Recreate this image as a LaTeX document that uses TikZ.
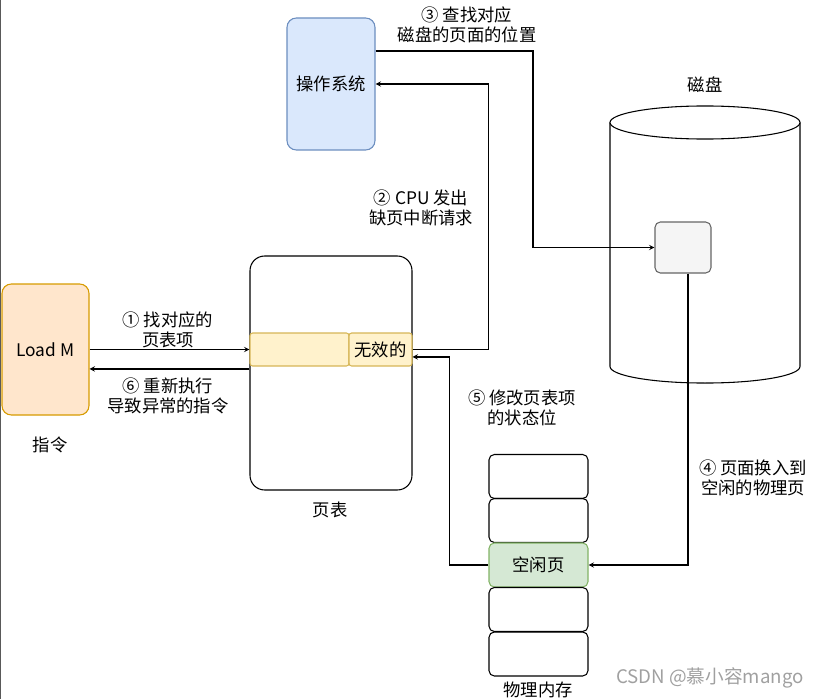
\documentclass[tikz,border=0pt]{standalone}
\usepackage{fontspec}
\usepackage{xcolor}
\usepackage{tikz}
\usetikzlibrary{arrows,calc,positioning,shapes}
\newfontfamily\cjk{Noto Sans CJK SC}
\definecolor{osfill}{HTML}{DAE8FC}
\definecolor{osline}{HTML}{6C8EBF}
\definecolor{ldfill}{HTML}{FFE6CC}
\definecolor{ldline}{HTML}{D79B00}
\definecolor{ptefill}{HTML}{FFF2CC}
\definecolor{pteline}{HTML}{D6B656}
\definecolor{freefill}{HTML}{D5E8D4}
\definecolor{freeline}{HTML}{82B366}
\definecolor{blkfill}{HTML}{F5F5F5}
\definecolor{blkline}{HTML}{666666}
\definecolor{markgray}{HTML}{A0A0A0}
\tikzset{%
	osbox/.style    = {draw=osline, fill=osfill, rounded corners=7pt, minimum width=66pt, minimum height=99pt, text centered},
	loadbox/.style  = {draw=ldline, fill=ldfill, rounded corners=7pt, minimum width=65.25pt, minimum height=98.25pt, text centered},
	tablebox/.style = {draw, rounded corners=11pt, minimum width=121.5pt, minimum height=175.5pt},
	pte/.style      = {draw=pteline, fill=ptefill, rounded corners=2pt, minimum height=24.75pt, inner sep=0pt, text centered},
	diskblk/.style  = {draw=blkline, fill=blkfill, rounded corners=4pt, minimum width=42pt, minimum height=38.25pt},
	memframe/.style = {draw, rounded corners=4pt, minimum width=74.25pt, minimum height=33pt, text centered},
	note/.style     = {align=center},
	arrow/.style    = {line width=0.8pt, -stealth},
}

\begin{document}
\begin{tikzpicture}[x=0.75pt, y=-0.75pt, line width=0.8pt,
	every node/.style={font=\cjk\fontsize{13}{15.5}\selectfont}]
	\useasboundingbox (0,0) rectangle (822,699);
	\draw[gray!70!black, line width=0.6pt] (0.5,0) -- (0.5,699);

	% operating system and page table
	\node[osbox] (os) at (331,84) {操作系统};
	\node[tablebox] (ptab) at (331,373) {};
	\node[pte, minimum width=74.25pt] (pteL) at (299.5,349.5) {};
	\node[pte, minimum width=47.25pt] (pteR) at (380.5,349.5) {无效的};
	\node (tabname) at (330,510) {页表};

	% instruction
	\node[loadbox] (load) at (45.5,349.5) {Load M};
	\node (instr) at (50,445) {指令};

	% disk
	\draw[fill=white] (610,122.5) -- (610,366.5) arc[start angle=180, end angle=360, x radius=71.25pt, y radius=12.4pt] -- (800,122.5);
	\draw[fill=white] (705,122.5) ellipse [x radius=71.25pt, y radius=12.4pt];
	\node (diskname) at (705,85) {磁盘};
	\node[diskblk] (blk) at (683,247.5) {};

	% physical memory
	\node[memframe] (m1) at (538.5,476.5) {};
	\node[memframe] (m2) at (538.5,520.5) {};
	\node[memframe, draw=freeline, fill=freefill] (free) at (538.5,565) {空闲页};
	\node[memframe] (m4) at (538.5,609.5) {};
	\node[memframe] (m5) at (538.5,654) {};
	\node (memname) at (538,690) {物理内存};

	% steps
	\coordinate (c3) at (533,51);
	\draw[arrow] (load.east) -- (pteL.west);
	\draw[arrow] (pteR.east) -- ++(76,0) |- (os.east);
	\draw[arrow] (os.east |- c3) -- (c3) |- (blk.west);
	\draw[arrow] ([xshift=3.75pt]blk.south) |- (free.east);
	\draw[arrow] (free.west) -- ++(-39,0) |- ([yshift=-5.6pt]pteR.east);
	\draw[arrow] ([yshift=-14.6pt]pteL.west) -- ([yshift=-14.6pt]load.east);

	\node[note] (s1) at (168,330) {① 找对应的\\页表项};
	\node[note] (s2) at (421,208) {② CPU 发出\\缺页中断请求};
	\node[note] (s3) at (467,25) {③ 查找对应\\磁盘的页面的位置};
	\node[note] (s4) at (753,478) {④ 页面换入到\\空闲的物理页};
	\node[note] (s5) at (522,408) {⑤ 修改页表项\\的状态位};
	\node[note] (s6) at (168,396) {⑥ 重新执行\\导致异常的指令};

	\node[text=markgray, font=\cjk\fontsize{14}{16}\selectfont] (mark) at (710,678) {CSDN @慕小容mango};
\end{tikzpicture}
\end{document}
